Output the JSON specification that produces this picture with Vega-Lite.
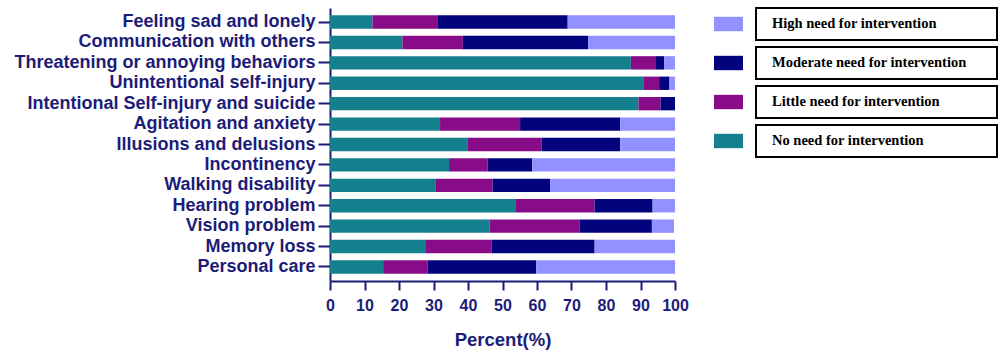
{
  "$schema": "https://vega.github.io/schema/vega-lite/v6.json",
  "padding": {"left": 2, "top": 7, "right": 2, "bottom": 2},
  "background": "white",
  "bounds": "flush",
  "spacing": 39,
  "config": {"view": {"stroke": null}, "font": "Liberation Sans"},
  "datasets": {
    "bars": [
      {"item": "Feeling sad and lonely", "level": "No need for intervention", "rank": 0, "pct": 12.3},
      {"item": "Feeling sad and lonely", "level": "Little need for intervention", "rank": 1, "pct": 18.8},
      {"item": "Feeling sad and lonely", "level": "Moderate need for intervention", "rank": 2, "pct": 37.8},
      {"item": "Feeling sad and lonely", "level": "High need for intervention", "rank": 3, "pct": 31.1},
      {"item": "Communication with others", "level": "No need for intervention", "rank": 0, "pct": 21.0},
      {"item": "Communication with others", "level": "Little need for intervention", "rank": 1, "pct": 17.5},
      {"item": "Communication with others", "level": "Moderate need for intervention", "rank": 2, "pct": 36.3},
      {"item": "Communication with others", "level": "High need for intervention", "rank": 3, "pct": 25.2},
      {"item": "Threatening or annoying behaviors", "level": "No need for intervention", "rank": 0, "pct": 87.2},
      {"item": "Threatening or annoying behaviors", "level": "Little need for intervention", "rank": 1, "pct": 7.3},
      {"item": "Threatening or annoying behaviors", "level": "Moderate need for intervention", "rank": 2, "pct": 2.4},
      {"item": "Threatening or annoying behaviors", "level": "High need for intervention", "rank": 3, "pct": 3.1},
      {"item": "Unintentional self-injury", "level": "No need for intervention", "rank": 0, "pct": 90.8},
      {"item": "Unintentional self-injury", "level": "Little need for intervention", "rank": 1, "pct": 4.6},
      {"item": "Unintentional self-injury", "level": "Moderate need for intervention", "rank": 2, "pct": 3.0},
      {"item": "Unintentional self-injury", "level": "High need for intervention", "rank": 3, "pct": 1.6},
      {"item": "Intentional Self-injury and suicide", "level": "No need for intervention", "rank": 0, "pct": 89.4},
      {"item": "Intentional Self-injury and suicide", "level": "Little need for intervention", "rank": 1, "pct": 6.4},
      {"item": "Intentional Self-injury and suicide", "level": "Moderate need for intervention", "rank": 2, "pct": 4.2},
      {"item": "Intentional Self-injury and suicide", "level": "High need for intervention", "rank": 3, "pct": 0},
      {"item": "Agitation and anxiety", "level": "No need for intervention", "rank": 0, "pct": 31.9},
      {"item": "Agitation and anxiety", "level": "Little need for intervention", "rank": 1, "pct": 23.2},
      {"item": "Agitation and anxiety", "level": "Moderate need for intervention", "rank": 2, "pct": 29.0},
      {"item": "Agitation and anxiety", "level": "High need for intervention", "rank": 3, "pct": 15.9},
      {"item": "Illusions and delusions", "level": "No need for intervention", "rank": 0, "pct": 39.8},
      {"item": "Illusions and delusions", "level": "Little need for intervention", "rank": 1, "pct": 21.6},
      {"item": "Illusions and delusions", "level": "Moderate need for intervention", "rank": 2, "pct": 22.7},
      {"item": "Illusions and delusions", "level": "High need for intervention", "rank": 3, "pct": 15.9},
      {"item": "Incontinency", "level": "No need for intervention", "rank": 0, "pct": 34.5},
      {"item": "Incontinency", "level": "Little need for intervention", "rank": 1, "pct": 11.2},
      {"item": "Incontinency", "level": "Moderate need for intervention", "rank": 2, "pct": 12.9},
      {"item": "Incontinency", "level": "High need for intervention", "rank": 3, "pct": 41.4},
      {"item": "Walking disability", "level": "No need for intervention", "rank": 0, "pct": 30.7},
      {"item": "Walking disability", "level": "Little need for intervention", "rank": 1, "pct": 16.4},
      {"item": "Walking disability", "level": "Moderate need for intervention", "rank": 2, "pct": 16.7},
      {"item": "Walking disability", "level": "High need for intervention", "rank": 3, "pct": 36.2},
      {"item": "Hearing problem", "level": "No need for intervention", "rank": 0, "pct": 53.9},
      {"item": "Hearing problem", "level": "Little need for intervention", "rank": 1, "pct": 22.8},
      {"item": "Hearing problem", "level": "Moderate need for intervention", "rank": 2, "pct": 16.8},
      {"item": "Hearing problem", "level": "High need for intervention", "rank": 3, "pct": 6.5},
      {"item": "Vision problem", "level": "No need for intervention", "rank": 0, "pct": 46.3},
      {"item": "Vision problem", "level": "Little need for intervention", "rank": 1, "pct": 26.0},
      {"item": "Vision problem", "level": "Moderate need for intervention", "rank": 2, "pct": 21.0},
      {"item": "Vision problem", "level": "High need for intervention", "rank": 3, "pct": 6.4},
      {"item": "Memory loss", "level": "No need for intervention", "rank": 0, "pct": 27.6},
      {"item": "Memory loss", "level": "Little need for intervention", "rank": 1, "pct": 19.3},
      {"item": "Memory loss", "level": "Moderate need for intervention", "rank": 2, "pct": 29.8},
      {"item": "Memory loss", "level": "High need for intervention", "rank": 3, "pct": 23.3},
      {"item": "Personal care", "level": "No need for intervention", "rank": 0, "pct": 15.4},
      {"item": "Personal care", "level": "Little need for intervention", "rank": 1, "pct": 12.9},
      {"item": "Personal care", "level": "Moderate need for intervention", "rank": 2, "pct": 31.5},
      {"item": "Personal care", "level": "High need for intervention", "rank": 3, "pct": 40.2}
    ],
    "legend": [
      {"level": "High need for intervention"},
      {"level": "Moderate need for intervention"},
      {"level": "Little need for intervention"},
      {"level": "No need for intervention"}
    ]
  },
  "resolve": {"scale": {"color": "shared"}},
  "hconcat": [
    {
      "width": 345,
      "height": 273,
      "data": {"name": "bars"},
      "mark": {"type": "bar"},
      "encoding": {
        "y": {
          "field": "item",
          "type": "nominal",
          "sort": ["Feeling sad and lonely", "Communication with others", "Threatening or annoying behaviors", "Unintentional self-injury", "Intentional Self-injury and suicide", "Agitation and anxiety", "Illusions and delusions", "Incontinency", "Walking disability", "Hearing problem", "Vision problem", "Memory loss", "Personal care"],
          "scale": {"paddingInner": 0.345, "paddingOuter": 0.36},
          "axis": {
            "title": null,
            "minExtent": 328,
            "maxExtent": 328,
            "domainColor": "#1c1c78",
            "domainWidth": 2,
            "tickColor": "#1c1c78",
            "tickWidth": 2,
            "tickSize": 12,
            "labelPadding": 3,
            "labelFont": "Liberation Sans",
            "labelFontWeight": "bold",
            "labelFontSize": 18,
            "labelColor": "#1c1c78",
            "labelLimit": 400
          }
        },
        "x": {
          "field": "pct",
          "type": "quantitative",
          "stack": "zero",
          "scale": {"domain": [0, 100], "nice": false},
          "axis": {
            "title": "Percent(%)",
            "values": [0, 10, 20, 30, 40, 50, 60, 70, 80, 90, 100],
            "labelOverlap": false,
            "labelFlush": false,
            "grid": false,
            "domainColor": "#1c1c78",
            "domainWidth": 2,
            "tickColor": "#1c1c78",
            "tickWidth": 2,
            "tickSize": 9,
            "labelPadding": 7,
            "labelFont": "Liberation Sans",
            "labelFontWeight": "bold",
            "labelFontSize": 16,
            "labelColor": "#1c1c78",
            "titleFont": "Liberation Sans",
            "titleFontWeight": "bold",
            "titleFontSize": 18.5,
            "titleColor": "#1c1c78",
            "titlePadding": 17
          }
        },
        "color": {
          "field": "level",
          "type": "nominal",
          "scale": {
            "domain": ["High need for intervention", "Moderate need for intervention", "Little need for intervention", "No need for intervention"],
            "range": ["#9191ff", "#03037e", "#880c88", "#14808e"]
          },
          "legend": null
        },
        "order": {"field": "rank", "type": "quantitative"}
      }
    },
    {
      "width": 284,
      "height": 149,
      "data": {"name": "legend"},
      "encoding": {
        "y": {
          "field": "level",
          "type": "nominal",
          "sort": ["High need for intervention", "Moderate need for intervention", "Little need for intervention", "No need for intervention"],
          "scale": {"paddingInner": 0.18, "paddingOuter": 0},
          "axis": null
        }
      },
      "layer": [
        {
          "mark": {"type": "bar", "height": {"band": 0.45}},
          "encoding": {
            "x": {"datum": 0, "type": "quantitative", "scale": {"domain": [0, 284], "nice": false, "zero": true}, "axis": null},
            "x2": {"datum": 29},
            "color": {"field": "level", "type": "nominal", "legend": null}
          }
        },
        {
          "mark": {"type": "bar", "fill": "white", "stroke": "black", "strokeWidth": 2},
          "encoding": {
            "x": {"datum": 42, "type": "quantitative"},
            "x2": {"datum": 283}
          }
        },
        {
          "mark": {"type": "text", "align": "left", "baseline": "middle", "font": "Liberation Serif", "fontWeight": "bold", "fontSize": 14.5, "color": "black"},
          "encoding": {
            "x": {"datum": 58, "type": "quantitative"},
            "text": {"field": "level", "type": "nominal"}
          }
        }
      ]
    }
  ]
}
